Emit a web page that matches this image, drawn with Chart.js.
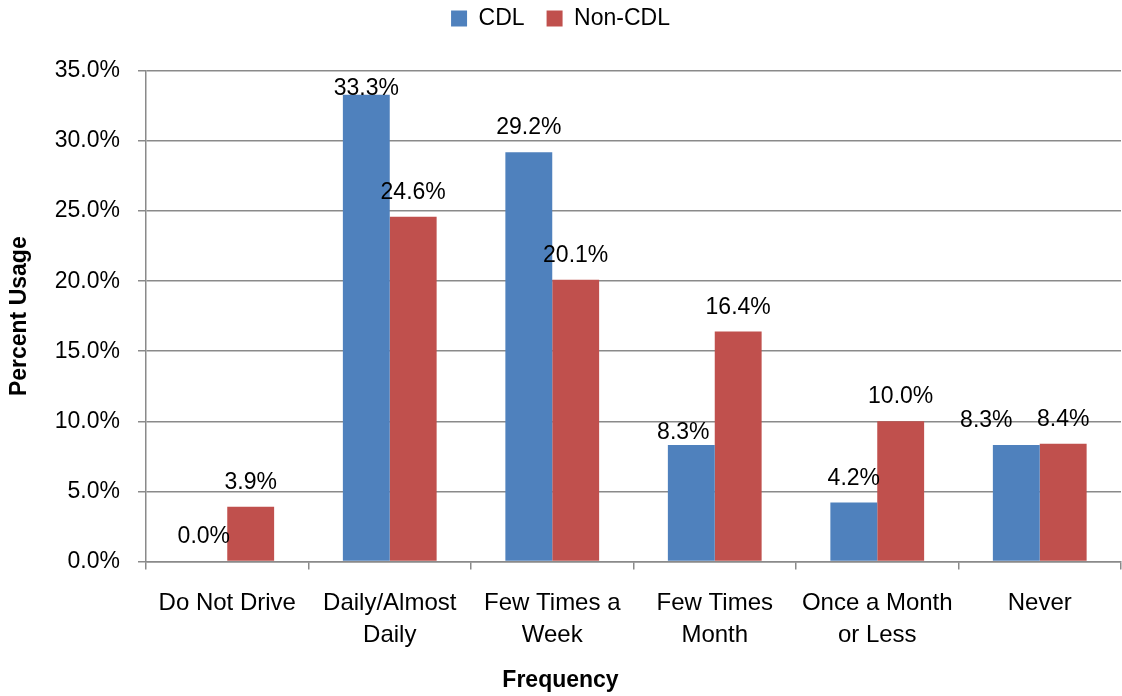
<!DOCTYPE html>
<html>
<head>
<meta charset="utf-8">
<script src="https://cdn.jsdelivr.net/npm/chart.js@4.4.1/dist/chart.umd.min.js"></script>
<style>
  html, body { margin: 0; padding: 0; background: #ffffff; }
  #wrap { width: 1122px; height: 696px; position: relative; }
</style>
</head>
<body>
<div id="wrap"><canvas id="c" width="1122" height="696"></canvas></div>
<script>
// ---- data ----
const categories = [
  ["Do Not Drive"],
  ["Daily/Almost", "Daily"],
  ["Few Times a", "Week"],
  ["Few Times", "Month"],
  ["Once a Month", "or Less"],
  ["Never"]
];
const seriesNames = ["CDL", "Non-CDL"];
const cdlValues = [0.0, 33.3, 29.2, 8.3, 4.2, 8.3];
const nonCdlValues = [3.9, 24.6, 20.1, 16.4, 10.0, 8.4];
const yTickValues = [0, 5, 10, 15, 20, 25, 30, 35];
const xTitle = "Frequency";
const yTitle = "Percent Usage";

// ---- styles ----
const FONT = "'Liberation Sans', Arial, sans-serif";
const GRID = "#8a8a8a";

const dataLabelPlugin = {
  id: 'dataLabels',
  afterDatasetsDraw(chart, args, opts) {
    const ctx = chart.ctx;
    ctx.save();
    ctx.font = "23px " + FONT;
    ctx.fillStyle = "#000";
    ctx.textAlign = "center";
    ctx.textBaseline = "alphabetic";
    chart.data.datasets.forEach((ds, di) => {
      const meta = chart.getDatasetMeta(di);
      meta.data.forEach((el, i) => {
        const v = ds.data[i];
        let x = el.x;
        let y = Math.max(el.y - 18, chart.chartArea.top + 24);
        const n = opts.nudge && opts.nudge[di + ":" + i];
        if (n) { x += n[0]; y += n[1]; }
        ctx.fillText(v.toFixed(1) + "%", x, y);
      });
    });
    ctx.restore();
  }
};

const legendFitPlugin = {
  id: 'legendFit',
  beforeLayout(chart) {
    const lg = chart.legend;
    if (lg && !lg._patched) {
      const orig = lg.fit;
      lg.fit = function () { orig.call(this); this.height = 86; };
      lg._patched = true;
    }
  }
};

new Chart(document.getElementById('c'), {
  type: 'bar',
  data: {
    labels: categories,
    datasets: [
      { label: seriesNames[0], data: cdlValues, backgroundColor: "#4F81BD", borderWidth: 0 },
      { label: seriesNames[1], data: nonCdlValues, backgroundColor: "#C0504D", borderWidth: 0 }
    ]
  },
  options: {
    responsive: false,
    animation: false,
    devicePixelRatio: 1,
    layout: { padding: { top: -15, left: 0, right: 1, bottom: 0 } },
    datasets: { bar: { categoryPercentage: 0.577, barPercentage: 1.0 } },
    plugins: {
      tooltip: { enabled: false },
      dataLabels: { nudge: { "0:3": [-8, 12], "0:5": [-30, 0] } },
      legend: {
        position: 'top',
        labels: {
          boxWidth: 16, boxHeight: 16, padding: 22,
          color: "#000",
          font: { family: FONT, size: 23 }
        }
      },
      title: {
        display: true,
        position: 'bottom',
        text: xTitle,
        color: "#000",
        font: { family: FONT, size: 23, weight: 'bold', lineHeight: 1.2 },
        padding: { top: 13, bottom: 2 }
      }
    },
    scales: {
      x: {
        offset: true,
        afterFit(scale) { scale.height = 92; },
        grid: { display: true, offset: true, drawOnChartArea: false, drawTicks: true, tickLength: 8, color: GRID, lineWidth: 1.5 },
        border: { display: true, color: GRID, width: 1.5 },
        ticks: {
          autoSkip: false, maxRotation: 0, minRotation: 0,
          padding: 18, color: "#000",
          font: { family: FONT, size: 24, lineHeight: 1.33 }
        }
      },
      y: {
        min: 0, max: 35,
        afterFit(scale) { scale.width = 146; },
        afterBuildTicks(scale) { scale.ticks = yTickValues.map(v => ({ value: v })); },
        grid: { color: GRID, lineWidth: 1.5, drawTicks: true, tickLength: 8 },
        border: { display: true, color: GRID, width: 1.5 },
        ticks: {
          padding: 18, color: "#000",
          font: { family: FONT, size: 23 },
          callback: v => Number(v).toFixed(1) + "%"
        },
        title: {
          display: true, text: yTitle, color: "#000",
          font: { family: FONT, size: 23, weight: 'bold', lineHeight: 1.2 },
          padding: { top: 6, bottom: 0 }
        }
      }
    }
  },
  plugins: [dataLabelPlugin, legendFitPlugin]
});
</script>
</body>
</html>
